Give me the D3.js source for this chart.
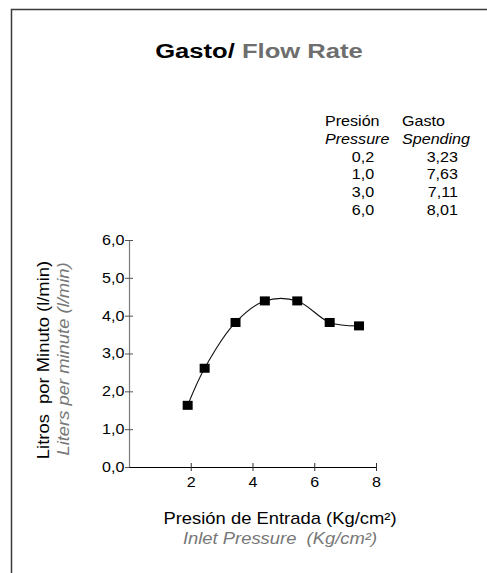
<!DOCTYPE html>
<html>
<head>
<meta charset="utf-8">
<script src="https://cdn.jsdelivr.net/npm/d3@7"></script>
<style>
  body { margin: 0; background: #fff; }
  svg { display: block; font-family: "Liberation Sans", Arial, sans-serif; }
  text { white-space: pre; }
</style>
</head>
<body>
<div id="chart"></div>
<script>
// measured points off the curve
var pressure = [1.9, 2.45, 3.45, 4.4, 5.45, 6.5, 7.45];
var flow = [1.63, 2.61, 3.82, 4.39, 4.39, 3.82, 3.73];

var yTicks = [0, 1, 2, 3, 4, 5, 6];
var xTicks = [2, 4, 6, 8];

// little table in the corner
var tablePressure = [0.2, 1.0, 3.0, 6.0];
var tableSpending = [3.23, 7.63, 7.11, 8.01];

var width = 487, height = 573;
var stretch = 1.15; // source font runs wider than Arial

var comma = function(digits) {
  return function(d) { return d.toFixed(digits).replace('.', ','); };
};

var svg = d3.select('#chart').append('svg')
  .attr('width', width)
  .attr('height', height);

// frame, right and bottom edges run off the page
svg.append('path')
  .attr('d', 'M11.5,' + (height + 2) + 'V9.5H' + (width + 2))
  .attr('fill', 'none')
  .attr('stroke', '#3a3a3a')
  .attr('stroke-width', 1.5);

// title
var title = svg.append('text')
  .attr('text-anchor', 'middle')
  .attr('font-size', 21)
  .attr('font-weight', 'bold')
  .attr('transform', 'translate(259,58) scale(1.22,1)');
title.append('tspan').attr('fill', '#000').text('Gasto/ ');
title.append('tspan').attr('fill', '#6e6e6e').text('Flow Rate');

// table
var table = svg.append('g').attr('font-size', 14).attr('fill', '#000');
function tableText(x, y, anchor, str, italic) {
  table.append('text')
    .attr('text-anchor', anchor)
    .attr('font-style', italic ? 'italic' : null)
    .attr('transform', 'translate(' + x + ',' + y + ') scale(' + stretch + ',1)')
    .text(str);
}
var rowY = 126, rowStep = 17.8;
tableText(325, rowY, 'start', 'Presión');
tableText(402, rowY, 'start', 'Gasto');
tableText(325, rowY + rowStep, 'start', 'Pressure', true);
tableText(402, rowY + rowStep, 'start', 'Spending', true);
tablePressure.forEach(function(p, i) {
  tableText(363, rowY + rowStep * (i + 2), 'middle', comma(1)(p));
  tableText(458, rowY + rowStep * (i + 2), 'end', comma(2)(tableSpending[i]));
});

// scales
var x = d3.scaleLinear().domain([0, 8]).range([129, 376]);
var y = d3.scaleLinear().domain([0, 6]).range([467, 240]);

// y axis
var yAxis = svg.append('g')
  .attr('transform', 'translate(' + x(0) + ',0)')
  .call(d3.axisLeft(y).tickValues(yTicks).tickFormat(comma(1))
    .tickSize(4).tickSizeOuter(0).tickPadding(0));
yAxis.attr('font-family', null);
yAxis.select('.domain').attr('stroke', '#7a7a7a').attr('stroke-width', 1.2);
yAxis.selectAll('.tick line').attr('x1', 4).attr('stroke', '#555');
yAxis.selectAll('.tick text')
  .attr('font-size', 14)
  .attr('fill', '#000')
  .attr('transform', 'scale(' + stretch + ',1)');

// x axis
var xAxis = svg.append('g')
  .attr('transform', 'translate(0,' + y(0) + ')')
  .call(d3.axisBottom(x).tickValues(xTicks).tickFormat(d3.format('d'))
    .tickSize(4).tickSizeOuter(0).tickPadding(6));
xAxis.attr('font-family', null);
xAxis.select('.domain').attr('stroke', '#000');
xAxis.selectAll('.tick line').attr('y1', -4).attr('stroke', '#333');
xAxis.selectAll('.tick text')
  .attr('font-size', 14)
  .attr('fill', '#000')
  .attr('transform', 'scale(' + stretch + ',1)');

// axis titles
function label(tx, ty, rot, str, colour, italic) {
  svg.append('text')
    .attr('text-anchor', 'middle')
    .attr('font-size', 16)
    .attr('fill', colour)
    .attr('font-style', italic ? 'italic' : null)
    .attr('transform', 'translate(' + tx + ',' + ty + ')' + (rot ? ' rotate(-90)' : '') +
      ' scale(' + stretch + ',1)')
    .text(str);
}
label(49, 360, true, 'Litros  por Minuto (l/min)', '#000', false);
label(69, 359, true, 'Liters per minute (l/min)', '#777', true);
label(280, 524, false, 'Presión de Entrada (Kg/cm²)', '#000', false);
label(280, 544, false, 'Inlet Pressure  (Kg/cm²)', '#777', true);

// curve + markers
var pts = pressure.map(function(p, i) { return [p, flow[i]]; });
var line = d3.line()
  .x(function(d) { return x(d[0]); })
  .y(function(d) { return y(d[1]); })
  .curve(d3.curveCatmullRom.alpha(0.5));

svg.append('path')
  .datum(pts)
  .attr('d', line)
  .attr('fill', 'none')
  .attr('stroke', '#111')
  .attr('stroke-width', 1.1);

svg.append('g').selectAll('rect')
  .data(pts)
  .enter().append('rect')
    .attr('x', function(d) { return x(d[0]) - 5; })
    .attr('y', function(d) { return y(d[1]) - 4.5; })
    .attr('width', 10)
    .attr('height', 9)
    .attr('fill', '#000');
</script>
</body>
</html>
